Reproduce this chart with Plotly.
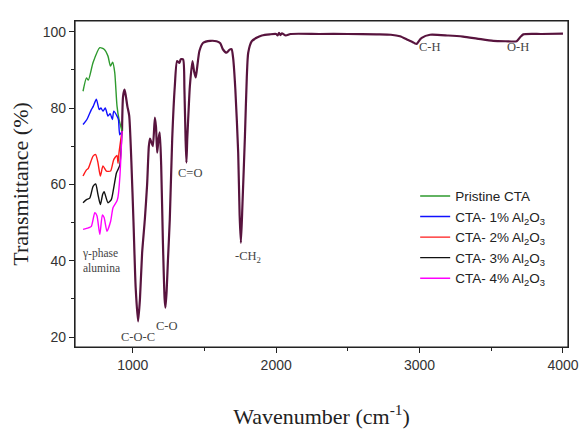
import plotly.graph_objects as go

# Shared spectrum (all five samples coincide above ~920 cm-1)
common_x = [925, 932, 942, 950, 962, 975, 990, 1005, 1020, 1037, 1050, 1065, 1084, 1100, 1112, 1120,
            1130, 1140, 1154, 1162, 1170, 1180, 1188, 1198, 1210, 1222, 1228, 1236, 1245, 1258, 1275,
            1293, 1309, 1325, 1335, 1351, 1360, 1368, 1374, 1380, 1390, 1398, 1416, 1428, 1439, 1450,
            1465, 1491, 1540, 1584, 1610, 1628, 1654, 1675, 1689, 1700, 1715, 1735, 1745, 1754, 1765,
            1782, 1795, 1805, 1830, 1863, 1900, 1956, 2000, 2010, 2020, 2030, 2040, 2067, 2100, 2300,
            2500, 2700, 2800, 2863, 2920, 2950, 2968, 2980, 3000, 3015, 3073, 3200, 3303, 3400, 3514,
            3600, 3677, 3700, 3723, 3850, 4000]
common_y = [74, 83, 84.8, 83.5, 80.5, 78, 66, 50, 33, 24.1, 30, 42, 50.8, 60, 70, 72,
            71, 70, 77.5, 75, 68.3, 72, 73.6, 65, 45, 30, 27.7, 32, 40, 50.8, 72,
            85.7, 92.3, 91.8, 92.8, 92.7, 85, 72, 65.7, 72, 80, 85.7, 92.3, 89.5, 88, 91,
            95, 97.1, 97.6, 97.5, 97, 95.4, 94.5, 95.3, 95.4, 93, 85, 68.3, 52, 44.7, 55,
            72.6, 88, 94.5, 97.5, 98.4, 99, 99.3, 99.4, 99.0, 99.7, 99.1, 99.6, 99.0, 99.4, 99.4,
            99.4, 99.3, 99.2, 98.8, 97.8, 97.3, 96.9, 96.8, 97.8, 98.4, 99.2, 99.0, 98.7, 98.2, 97.6,
            97.5, 97.5, 98.5, 99.3, 99.4, 99.5]

# Low-wavenumber region (gamma-phase alumina), one array per sample
pristine_x = [653, 677, 690, 723, 770, 800, 827, 844, 860, 874, 890, 904, 925]
pristine_y = [84.4, 87.9, 87.3, 91.9, 95.8, 95.4, 93.6, 91.0, 92.0, 89.3, 80.5, 77.0, 74]

al1_x = [653, 680, 711, 725, 746, 766, 778, 792, 808, 827, 842, 858, 867, 890, 900, 909, 925]
al1_y = [75.7, 77.0, 79.6, 80.5, 82.3, 79.6, 80.0, 79.2, 80.0, 77.9, 78.5, 77.0, 79.2, 77.9, 77.0, 73.0, 74]

al2_x = [653, 677, 690, 723, 741, 757, 774, 792, 816, 845, 867, 890, 897, 904, 925]
al2_y = [62.2, 63.8, 64.2, 67.4, 67.8, 65.7, 62.2, 64.8, 63.5, 63.5, 66.5, 67.6, 65.5, 68.3, 74]

al3_x = [653, 677, 700, 723, 741, 757, 774, 790, 800, 827, 850, 867, 886, 897, 909, 925]
al3_y = [55.2, 56.0, 56.4, 59.5, 60.1, 57.4, 54.7, 57.4, 58.1, 55.2, 56.0, 59.1, 63.0, 63.9, 65.0, 74]

al4_x = [653, 690, 711, 735, 750, 770, 788, 800, 820, 846, 862, 890, 897, 910, 925]
al4_y = [48.2, 48.6, 49.0, 52.6, 51.8, 46.9, 52.0, 51.3, 47.7, 50.4, 53.9, 55.7, 56.7, 62.0, 74]

names = ["Pristine CTA", "CTA- 1% Al<sub>2</sub>O<sub>3</sub>", "CTA- 2% Al<sub>2</sub>O<sub>3</sub>",
         "CTA- 3% Al<sub>2</sub>O<sub>3</sub>", "CTA- 4% Al<sub>2</sub>O<sub>3</sub>"]
colors = ["#2e9a2e", "#1010ff", "#ff1a1a", "#111111", "#ff00ff"]
series = [(pristine_x, pristine_y), (al1_x, al1_y), (al2_x, al2_y), (al3_x, al3_y), (al4_x, al4_y)]

# Peak labels
label_text = ["C-O-C", "C-O", "C=O", "-CH<sub>2</sub>", "C-H", "O-H", "γ-phase<br>alumina"]
label_x = [1033, 1239, 1402, 1800, 3073, 3686, 632]
label_y = [20.0, 22.9, 63.0, 41.0, 96.1, 96.1, 40.0]

fig = go.Figure()
fig.add_trace(go.Scatter(x=common_x, y=common_y, mode="lines", showlegend=False,
                         line=dict(color="#58143e", width=2.2, shape="spline", smoothing=0.6),
                         hoverinfo="skip"))
for (sx, sy), nm, c in zip(series, names, colors):
    fig.add_trace(go.Scatter(x=sx, y=sy, mode="lines", name=nm,
                             line=dict(color=c, width=1.4, shape="spline", smoothing=0.6)))

for t, xx, yy in zip(label_text, label_x, label_y):
    left = t.startswith("γ")
    fig.add_annotation(x=xx, y=yy, text=t, showarrow=False,
                       xanchor="left" if left else "center", yanchor="middle", align="left",
                       font=dict(family="Liberation Serif", size=12.5 if not left else 11.5,
                                 color="#444444"))

# plot frame
fig.add_shape(type="rect", xref="paper", yref="paper", x0=0, y0=0, x1=1, y1=1,
              line=dict(color="#222222", width=1.2), fillcolor="rgba(0,0,0,0)", layer="above")

axis_common = dict(showline=True, linecolor="#222222", linewidth=1.2, mirror=True,
                   ticks="outside", ticklen=5, tickwidth=1, tickcolor="#222222",
                   showgrid=False, zeroline=False, automargin=False,
                   tickfont=dict(family="Liberation Sans", size=14, color="#333333"))

fig.update_layout(
    width=588, height=433,
    margin=dict(l=75, r=20, t=21, b=86, autoexpand=False),
    plot_bgcolor="white", paper_bgcolor="white",
    xaxis=dict(range=[597, 4035], tickvals=[1000, 2000, 3000, 4000],
               minor=dict(tickvals=[1500, 2500, 3500], ticks="outside", ticklen=3, tickcolor="#222222"),
               title=dict(text="Wavenumber (cm<sup>-1</sup>)", standoff=36,
                          font=dict(family="Liberation Serif", size=22, color="#222222")),
               **axis_common),
    yaxis=dict(range=[17.4, 102.8], tickvals=[20, 40, 60, 80, 100],
               minor=dict(tickvals=[30, 50, 70, 90], ticks="outside", ticklen=3, tickcolor="#222222"),
               title=dict(text="Transmittance (%)", standoff=8,
                          font=dict(family="Liberation Serif", size=22, color="#222222")),
               **axis_common),
    legend=dict(x=0.69, y=0.51, xanchor="left", yanchor="top", bgcolor="rgba(0,0,0,0)",
                font=dict(family="Liberation Sans", size=13.5, color="#222222"),
                tracegroupgap=0, itemwidth=30),
)

fig.write_html("out.html")
